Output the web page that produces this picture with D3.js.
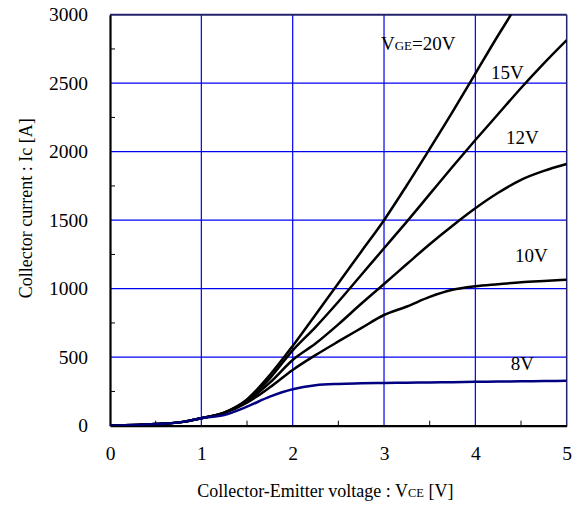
<!DOCTYPE html>
<html>
<head>
<meta charset="utf-8">
<script src="https://cdn.jsdelivr.net/npm/d3@7"></script>
<style>
body { margin: 0; background: #fff; }
text { font-family: "Liberation Serif", "Times New Roman", serif; fill: #000; }
</style>
</head>
<body>
<script>
// collector-emitter voltage samples (V)
var vce = [0, 0.5, 0.8, 1, 1.25, 1.5, 1.75, 2, 2.25, 2.5, 2.75, 3, 3.25, 3.5, 3.75, 4, 4.25, 4.5, 4.75, 5];
var vce20 = [0, 0.5, 0.8, 1, 1.25, 1.5, 1.75, 2, 2.25, 2.5, 2.75, 3, 3.25, 3.5, 3.75, 4, 4.25, 4.39];

// collector current (A) for each gate voltage
var ic20 = [0, 12, 28, 55, 96, 192, 370, 582, 810, 1040, 1270, 1500, 1755, 2020, 2290, 2570, 2850, 3000];
var ic15 = [0, 12, 28, 55, 95, 185, 346, 550, 720, 905, 1100, 1295, 1490, 1690, 1890, 2085, 2275, 2465, 2645, 2815];
var ic12 = [0, 12, 28, 55, 94, 178, 314, 480, 600, 740, 890, 1034, 1180, 1325, 1460, 1587, 1700, 1795, 1860, 1910];
var ic10 = [0, 12, 28, 55, 92, 168, 280, 407, 515, 615, 712, 808, 870, 940, 992, 1018, 1033, 1047, 1057, 1066];
var ic8  = [0, 12, 28, 55, 78, 139, 212, 266, 295, 305, 309, 312, 314, 316, 318, 320, 322, 324, 326, 328];

var xTicks = [0, 1, 2, 3, 4, 5];
var yTicks = [0, 500, 1000, 1500, 2000, 2500, 3000];
var xMinor = [0.5, 1.5, 2.5, 3.5, 4.5];
var yMinor = [250, 750, 1250, 1750, 2250, 2750];

var svgWidth = 573;
var svgHeight = 507;
var margin = { top: 14.7, right: 6.3, bottom: 81.3, left: 110 };
var width = svgWidth - margin.left - margin.right;
var height = svgHeight - margin.top - margin.bottom;

var svg = d3.select("body").append("svg")
    .attr("width", svgWidth)
    .attr("height", svgHeight);

var g = svg.append("g")
    .attr("transform", `translate(${margin.left}, ${margin.top})`);

var x = d3.scaleLinear().domain([0, 5]).range([0, width]);
var y = d3.scaleLinear().domain([0, 3000]).range([height, 0]);

// grid
g.append("g").selectAll("line").data(xTicks.slice(1, -1)).enter().append("line")
    .attr("x1", d => x(d)).attr("x2", d => x(d))
    .attr("y1", 0).attr("y2", height)
    .attr("stroke", "#0000f0").attr("stroke-width", 1.2);
g.append("g").selectAll("line").data(yTicks.slice(1, -1)).enter().append("line")
    .attr("x1", 0).attr("x2", width)
    .attr("y1", d => y(d)).attr("y2", d => y(d))
    .attr("stroke", "#0000f0").attr("stroke-width", 1.2);

// minor ticks, pointing inward
g.append("g").selectAll("line").data(xMinor).enter().append("line")
    .attr("x1", d => x(d)).attr("x2", d => x(d))
    .attr("y1", height).attr("y2", height - 5)
    .attr("stroke", "#000").attr("stroke-width", 1);
g.append("g").selectAll("line").data(yMinor).enter().append("line")
    .attr("x1", 0).attr("x2", 5)
    .attr("y1", d => y(d)).attr("y2", d => y(d))
    .attr("stroke", "#000").attr("stroke-width", 1);

// frame: top and right navy, left and bottom black
g.append("line").attr("x1", 0).attr("x2", width).attr("y1", 0).attr("y2", 0)
    .attr("stroke", "#22226a").attr("stroke-width", 2);
g.append("line").attr("x1", width).attr("x2", width).attr("y1", 0).attr("y2", height)
    .attr("stroke", "#22226a").attr("stroke-width", 1.5);

var xAxis = g.append("g")
    .attr("transform", `translate(0, ${height})`)
    .call(d3.axisBottom(x).tickValues(xTicks).tickSize(0).tickPadding(20).tickFormat(d3.format("d")));
var yAxis = g.append("g")
    .call(d3.axisLeft(y).tickValues(yTicks).tickSize(0).tickPadding(22).tickFormat(d3.format("d")));

[xAxis, yAxis].forEach(a => {
    a.select(".domain").attr("stroke", "#000").attr("stroke-width", 2.2);
    a.selectAll("text").style("font-family", '"Liberation Serif", serif').style("font-size", "19.5px").attr("fill", "#000");
});

// curves
var clip = g.append("clipPath").attr("id", "plot-clip")
    .append("rect").attr("x", 0).attr("y", -1).attr("width", width).attr("height", height + 1);

var line = d3.line()
    .x(d => x(d[0]))
    .y(d => y(d[1]))
    .curve(d3.curveMonotoneX);

var series = [
    { v: vce20, i: ic20, color: "#000" },
    { v: vce, i: ic15, color: "#000" },
    { v: vce, i: ic12, color: "#000" },
    { v: vce, i: ic10, color: "#000" },
    { v: vce, i: ic8, color: "#000080" }
];

var curveGroup = g.append("g").attr("clip-path", "url(#plot-clip)");
curveGroup.selectAll("path").data(series).enter().append("path")
    .attr("d", s => line(s.v.map((v, k) => [v, s.i[k]])))
    .attr("fill", "none")
    .attr("stroke", s => s.color)
    .attr("stroke-width", 2.5)
    .attr("stroke-linejoin", "round");

// curve labels (placed in data coordinates)
var labelFont = "19px";
var lblVge = g.append("text")
    .attr("x", x(2.967)).attr("y", y(2743))
    .style("font-size", labelFont);
lblVge.append("tspan").text("V");
lblVge.append("tspan").style("font-size", "13px").text("GE");
lblVge.append("tspan").text("=20V");

var simpleLabels = [
    { t: "15V", v: 4.17, a: 2528 },
    { t: "12V", v: 4.336, a: 2056 },
    { t: "10V", v: 4.434, a: 1197 },
    { t: "8V", v: 4.387, a: 407 }
];
g.selectAll(".gateLabel").data(simpleLabels).enter().append("text")
    .attr("class", "gateLabel")
    .attr("x", d => x(d.v)).attr("y", d => y(d.a))
    .style("font-size", labelFont)
    .text(d => d.t);

// axis titles
var xTitle = svg.append("text")
    .attr("x", margin.left + width / 2 - 13)
    .attr("y", 497)
    .attr("text-anchor", "middle")
    .style("font-size", "18px");
xTitle.append("tspan").text("Collector-Emitter voltage : V");
xTitle.append("tspan").style("font-size", "12.5px").text("CE");
xTitle.append("tspan").text(" [V]");

svg.append("text")
    .attr("transform", `translate(32, ${margin.top + height / 2 - 12}) rotate(-90)`)
    .attr("text-anchor", "middle")
    .style("font-size", "18px")
    .text("Collector current : Ic [A]");
</script>
</body>
</html>
